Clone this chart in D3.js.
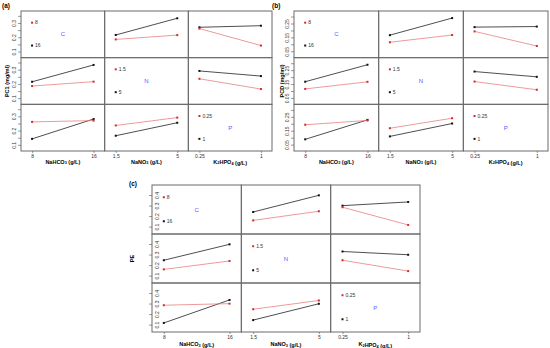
<!DOCTYPE html>
<html>
<head>
<meta charset="utf-8">
<script src="https://cdn.jsdelivr.net/npm/d3@7"></script>
<style>
  body { margin: 0; background: #fff; }
  svg { display: block; font-family: "Liberation Sans", Arial, sans-serif; }
</style>
</head>
<body>
<svg width="550" height="348"></svg>
<script>
const svg = d3.select("svg");

// factors, levels and axis titles ("_n" = subscript)
const factors = ["C", "N", "P"];
const levels = [["8", "16"], ["1.5", "5"], ["0.25", "1"]];
const xTitles = ["NaHCO_3 (g/L)", "NaNO_3 (g/L)", "K_2HPO_4 (g/L)"];

// two-way means, [level of first factor][level of second factor]
const pc1CN = [[0.185, 0.215], [0.216, 0.333]];
const pc1CP = [[0.261, 0.142], [0.270, 0.281]];
const pc1NP = [[0.236, 0.164], [0.291, 0.255]];

const pcdCN = [[0.115, 0.167], [0.166, 0.289]];
const pcdCP = [[0.193, 0.088], [0.224, 0.228]];
const pcdNP = [[0.168, 0.109], [0.240, 0.202]];

const peCN = [[0.159, 0.246], [0.239, 0.397]];
const peCP = [[0.284, 0.116], [0.299, 0.334]];
const peNP = [[0.246, 0.143], [0.329, 0.298]];

// y ticks and which of them get a label
const pc1Ticks = [0.1, 0.15, 0.2, 0.25, 0.3, 0.35];
const pc1TickLabels = ["0.1", "0.2", "0.3"];
const pcdTicks = [0.05, 0.1, 0.15, 0.2, 0.25, 0.3];
const pcdTickLabels = ["0.05", "0.15", "0.25"];
const peTicks = [0.1, 0.2, 0.3, 0.4];
const peTickLabels = ["0.1", "0.2", "0.3", "0.4"];

const panels = [
  { tag: "(a)", ylab: "PC1 (mg/ml)", tables: { CN: pc1CN, CP: pc1CP, NP: pc1NP },
    ticks: pc1Ticks, tickLabels: pc1TickLabels, yDomain: [0.057, 0.384],
    x0: 21, x1: 272, y0: 11, y1: 151, tagX: 2, tagY: 8, ylabX: 9, labInside: false, titleY: 163.5 },
  { tag: "(b)", ylab: "PCD (mg/ml)", tables: { CN: pcdCN, CP: pcdCP, NP: pcdNP },
    ticks: pcdTicks, tickLabels: pcdTickLabels, yDomain: [0.004, 0.34],
    x0: 294, x1: 548, y0: 11, y1: 151, tagX: 272, tagY: 8, ylabX: 284, labInside: false, titleY: 163.5 },
  { tag: "(c)", ylab: "PE", tables: { CN: peCN, CP: peCP, NP: peNP },
    ticks: peTicks, tickLabels: peTickLabels, yDomain: [0.03, 0.495],
    x0: 152, x1: 420, y0: 185, y1: 332, tagX: 129, tagY: 186, ylabX: 134, labInside: true, titleY: 346 }
];

const redLine = "#e88080", redPt = "#d42a2a", blackLine = "#222";

function subText(sel, str) {
  str.split(/(_\d)/).forEach(part => {
    if (!part) return;
    if (part[0] === "_") {
      sel.append("tspan").attr("font-size", "0.7em").attr("dy", "0.25em").text(part[1]);
      sel.append("tspan").attr("dy", "-0.25em").text("");
    } else {
      sel.append("tspan").text(part);
    }
  });
}

panels.forEach(p => {
  const g = svg.append("g");
  const cw = (p.x1 - p.x0) / 3, rh = (p.y1 - p.y0) / 3;
  const fmt = d3.format("~g");

  g.append("text").attr("x", p.tagX).attr("y", p.tagY)
    .attr("font-size", 6.5).attr("font-weight", "bold").text(p.tag);

  g.append("text")
    .attr("transform", `translate(${p.ylabX},${(p.y0 + p.y1) / 2}) rotate(-90)`)
    .attr("text-anchor", "middle").attr("font-size", 5.5).attr("font-weight", "bold")
    .text(p.ylab);

  for (let r = 0; r < 3; r++) {
    for (let c = 0; c < 3; c++) {
      const cx = p.x0 + c * cw, cy = p.y0 + r * rh;
      const x = d3.scalePoint().domain(levels[c]).range([cx, cx + cw]).padding(0.18);
      const y = d3.scaleLinear().domain(p.yDomain).range([cy + rh, cy]);
      const cell = g.append("g");

      if (r === c) {
        // legend on the diagonal
        const lx = x(levels[c][0]);
        [[0, 0.25, redPt], [1, 0.74, "#111"]].forEach(([k, f, col]) => {
          const ly = cy + f * rh;
          cell.append("rect").attr("x", lx - 1).attr("y", ly - 1)
            .attr("width", 2).attr("height", 2).attr("fill", col);
          cell.append("text").attr("x", lx + 3).attr("y", ly + 1.8)
            .attr("font-size", 5).attr("fill", "#333").text(levels[r][k]);
        });
        cell.append("text").attr("x", cx + cw / 2).attr("y", cy + rh / 2 + 2)
          .attr("text-anchor", "middle").attr("font-size", 6).attr("fill", "#5a5aff")
          .text(factors[r]);
      } else {
        const key = factors[Math.min(r, c)] + factors[Math.max(r, c)];
        const tab = p.tables[key];
        const val = (t, k) => r < c ? tab[t][k] : tab[k][t];
        [[1, blackLine, "#111"], [0, redLine, redPt]].forEach(([t, lc, pc]) => {
          const pts = levels[c].map((lv, k) => [x(lv), y(val(t, k))]);
          cell.append("path").attr("d", d3.line()(pts))
            .attr("fill", "none").attr("stroke", lc).attr("stroke-width", 0.8);
          cell.selectAll(null).data(pts).join("rect")
            .attr("x", d => d[0] - 1).attr("y", d => d[1] - 1)
            .attr("width", 2).attr("height", 2).attr("fill", pc);
        });
      }

      cell.append("rect").attr("x", cx).attr("y", cy).attr("width", cw).attr("height", rh)
        .attr("fill", "none").attr("stroke", "#6a6a6a").attr("stroke-width", 1);

      // y axis on the left column
      if (c === 0) {
        const ax = g.append("g").attr("transform", `translate(${p.x0},0)`)
          .call(d3.axisLeft(y).tickValues(p.ticks).tickSize(3)
            .tickFormat(d => p.tickLabels.includes(fmt(d)) ? fmt(d) : ""));
        ax.select(".domain").remove();
        ax.selectAll("line").attr("stroke", "#555").attr("stroke-width", 0.6);
        ax.selectAll("text")
          .attr("x", null).attr("dy", null).attr("y", 0)
          .attr("transform", `translate(${p.labInside ? 7 : -5},0) rotate(-90)`)
          .attr("text-anchor", "middle").attr("font-size", 5).attr("fill", "#333");
      }

      // x axis under the bottom row
      if (r === 2) {
        const ax = g.append("g").attr("transform", `translate(0,${p.y1})`)
          .call(d3.axisBottom(x).tickSize(2).tickPadding(1.5));
        ax.select(".domain").remove();
        ax.selectAll("line").attr("stroke", "#555").attr("stroke-width", 0.6);
        ax.selectAll("text").attr("font-size", 5).attr("fill", "#333");
        const t = g.append("text").attr("x", cx + cw / 2).attr("y", p.titleY)
          .attr("text-anchor", "middle").attr("font-size", 5.5).attr("font-weight", "bold");
        subText(t, xTitles[c]);
      }
    }
  }
});
</script>
</body>
</html>
